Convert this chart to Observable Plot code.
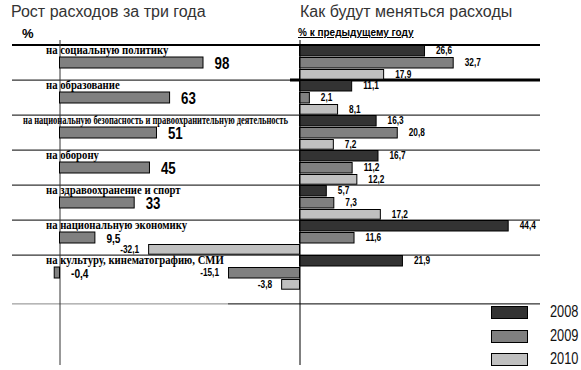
<!DOCTYPE html>
<html><head><meta charset="utf-8">
<script src="https://cdn.jsdelivr.net/npm/d3@7"></script>
<script src="https://cdn.jsdelivr.net/npm/@observablehq/plot@0.6"></script>
<style>
body{margin:0;background:#fff;}
#wrap{position:relative;width:581px;height:370px;overflow:hidden;font-family:"Liberation Sans",Arial,sans-serif;}
#wrap svg{position:absolute;left:0;top:0;}
.t{position:absolute;white-space:nowrap;color:#333;line-height:1;}
.sw{position:absolute;width:35px;height:11px;border:1px solid #000;}
</style></head><body><div id="wrap"></div>
<script>
// ---- data ----
const categories = [
  "на социальную политику",
  "на образование",
  "на национальную безопасность и правоохранительную деятельность",
  "на оборону",
  "на здравоохранение и спорт",
  "на национальную экономику",
  "на культуру, кинематографию, СМИ"
];
const growth3y = [98, 63, 51, 45, 33, 9.5, -0.4];
const years = ["2008", "2009", "2010"];
const change2008 = [26.6, 11.1, 16.3, 16.7, 5.7, 44.4, 21.9];
const change2009 = [32.7, 2.1, 20.8, 11.2, 7.3, 11.6, -15.1];
const change2010 = [17.9, 8.1, 7.2, 12.2, 17.2, -32.1, -3.8];
const yearColors = ["#333333", "#808080", "#c0c0c0"];
const titleLeft = "Рост расходов за три года";
const titleRight = "Как будут меняться расходы";
const unitLeft = "%";
const unitRight = "% к предыдущему году";

// ---- setup ----
const W = 581, H = 370;
const wrap = document.getElementById("wrap");
const fmt = v => String(v).replace(".", ",");
const numFont = '"Liberation Sans",Arial,sans-serif';
const yTop = 42, bw = 35.8;
const yScale = {domain: categories, range: [yTop, yTop + bw * categories.length], paddingInner: 0, paddingOuter: 0, axis: null};

const leftData = categories.map((c, i) => ({cat: c, v: growth3y[i]}));
const series = [change2008, change2009, change2010];
const rightData = years.flatMap((yr, j) => categories.map((c, i) => ({cat: c, year: yr, v: series[j][i]})));

// slot insets for the three years inside each category band
const slots = [
  {insetTop: 0.5, insetBottom: 24},
  {insetTop: 12.5, insetBottom: 12},
  {insetTop: 24.5, insetBottom: 0.8}
];
const slotDy = slots.map(s => (s.insetTop + (bw - s.insetBottom)) / 2 - bw / 2);

// ---- left panel ----
const left = Plot.plot({
  width: W, height: H, marginTop: 40, marginBottom: 5, marginLeft: 12, marginRight: W - 290,
  x: {type: "pow", exponent: 0.6, domain: [0, 98], range: [59.5, 203], axis: null},
  y: yScale,
  style: {background: "transparent", overflow: "visible"},
  marks: [
    Plot.ruleY(categories, {y: d => d, dy: -bw / 2, stroke: "#000", strokeWidth: 1}),
    Plot.ruleY(categories.slice(0, 1), {y: d => d, dy: -bw / 2, stroke: "#000", strokeWidth: 2}),
    Plot.ruleY(categories.slice(-1), {y: d => d, dy: bw / 2 + 13, stroke: "#888", insetRight: 62}),
    Plot.ruleX([0], {stroke: "#333"}),
    Plot.barX(leftData, {x: "v", y: "cat", fill: "#808080", stroke: "#000", insetTop: 12, insetBottom: 12}),
    Plot.text(leftData, {x: d => Math.max(d.v, 0), y: "cat", text: d => fmt(d.v), dx: 11, dy: 1,
      textAnchor: "start", fontSize: d => Number.isInteger(d.v) ? 17 : 13, fontFamily: numFont, fontWeight: "bold", fill: "#000"}),
    Plot.text(categories, {x: () => 0, y: d => d, text: d => d, dx: -14, dy: -bw / 2 + 0.5, lineAnchor: "top",
      textAnchor: "start", fontFamily: '"Liberation Serif","Times New Roman",serif', fontWeight: "bold", fontSize: 11.5, fill: "#000"})
  ]
});

// ---- right panel ----
const rightMarks = [
  Plot.ruleY(categories, {y: d => d, dy: -bw / 2, stroke: "#000", strokeWidth: 1, insetLeft: 62}),
  Plot.ruleY(categories.slice(0, 1), {y: d => d, dy: -bw / 2, stroke: "#000", strokeWidth: 2, insetLeft: 62}),
  Plot.ruleY(categories.slice(1, 2), {y: d => d, dy: -bw / 2, stroke: "#000", strokeWidth: 3, insetLeft: 62}),
  Plot.ruleY(categories.slice(-1), {y: d => d, dy: bw / 2 + 13, stroke: "#000"})
];
years.forEach((yr, j) => {
  const rows = rightData.filter(d => d.year === yr);
  rightMarks.push(Plot.barX(rows, {x: "v", y: "cat", fill: yearColors[j], stroke: "#000", ...slots[j]}));
  rightMarks.push(Plot.text(rows.filter(d => d.v >= 0), {x: "v", y: "cat", text: d => fmt(d.v), dx: 11, dy: slotDy[j] - 1,
    textAnchor: "start", fontSize: 11.5, fontFamily: numFont, fontWeight: "bold", fill: "#000"}));
  rightMarks.push(Plot.text(rows.filter(d => d.v < 0), {x: "v", y: "cat", text: d => fmt(d.v), dx: -10, dy: slotDy[j] - 1,
    textAnchor: "end", fontSize: 11.5, fontFamily: numFont, fontWeight: "bold", fill: "#000"}));
});
rightMarks.push(Plot.ruleX([0], {stroke: "#000"}));

const right = Plot.plot({
  width: W, height: H, marginTop: 40, marginBottom: 5, marginLeft: 228, marginRight: W - 540,
  x: {domain: [0, 50], range: [299.5, 299.5 + 50 * 4.7], axis: null},
  y: yScale,
  style: {background: "transparent", overflow: "visible"},
  marks: rightMarks
});

wrap.appendChild(left);
wrap.appendChild(right);

// narrow the number labels (condensed look of the original)
function condense(t, f) {
  const w = t.getComputedTextLength();
  t.setAttribute("textLength", (w * f).toFixed(1));
  t.setAttribute("lengthAdjust", "spacingAndGlyphs");
}
const catSet = new Set(categories);
left.querySelectorAll("text").forEach(t => {
  if (catSet.has(t.textContent)) {
    // compress a category label that would run into the right panel
    const maxRight = 288, minLeft = 23;
    const b = t.getBBox();
    const ctm = t.getCTM();
    const x0 = (ctm ? ctm.e : 0) + b.x;
    const w = t.getComputedTextLength();
    if (x0 + w > maxRight) {
      const shift = x0 - minLeft;
      t.setAttribute("x", (+t.getAttribute("x") || 0) - shift);
      t.setAttribute("textLength", (maxRight - minLeft).toFixed(1));
      t.setAttribute("lengthAdjust", "spacingAndGlyphs");
    } else {
      condense(t, 0.93);
    }
  } else {
    condense(t, 0.78);
  }
});
right.querySelectorAll("text").forEach(t => condense(t, 0.72));

// ---- titles, units and legend (HTML) ----
function addText(txt, css) {
  const d = document.createElement("div");
  d.className = "t"; d.textContent = txt; Object.assign(d.style, css); wrap.appendChild(d); return d;
}
addText(titleLeft, {left: "11px", top: "4px", fontSize: "16px"});
addText(titleRight, {left: "300px", top: "4px", fontSize: "16px"});
addText(unitLeft, {left: "22px", top: "27px", fontSize: "13px", fontWeight: "bold", color: "#000"});
addText(unitRight, {left: "298px", top: "28px", fontSize: "10px", fontWeight: "bold", color: "#000", textDecoration: "underline"});
years.forEach((yr, j) => {
  const s = document.createElement("div");
  s.className = "sw";
  Object.assign(s.style, {left: "491px", top: (306 + j * 23.7) + "px", background: yearColors[j]});
  wrap.appendChild(s);
  addText(yr, {left: "550px", top: (304 + j * 23.7) + "px", fontSize: "16px", fontFamily: numFont, color: "#111",
    transform: "scaleX(0.8)", transformOrigin: "left top"});
});
</script></body></html>
